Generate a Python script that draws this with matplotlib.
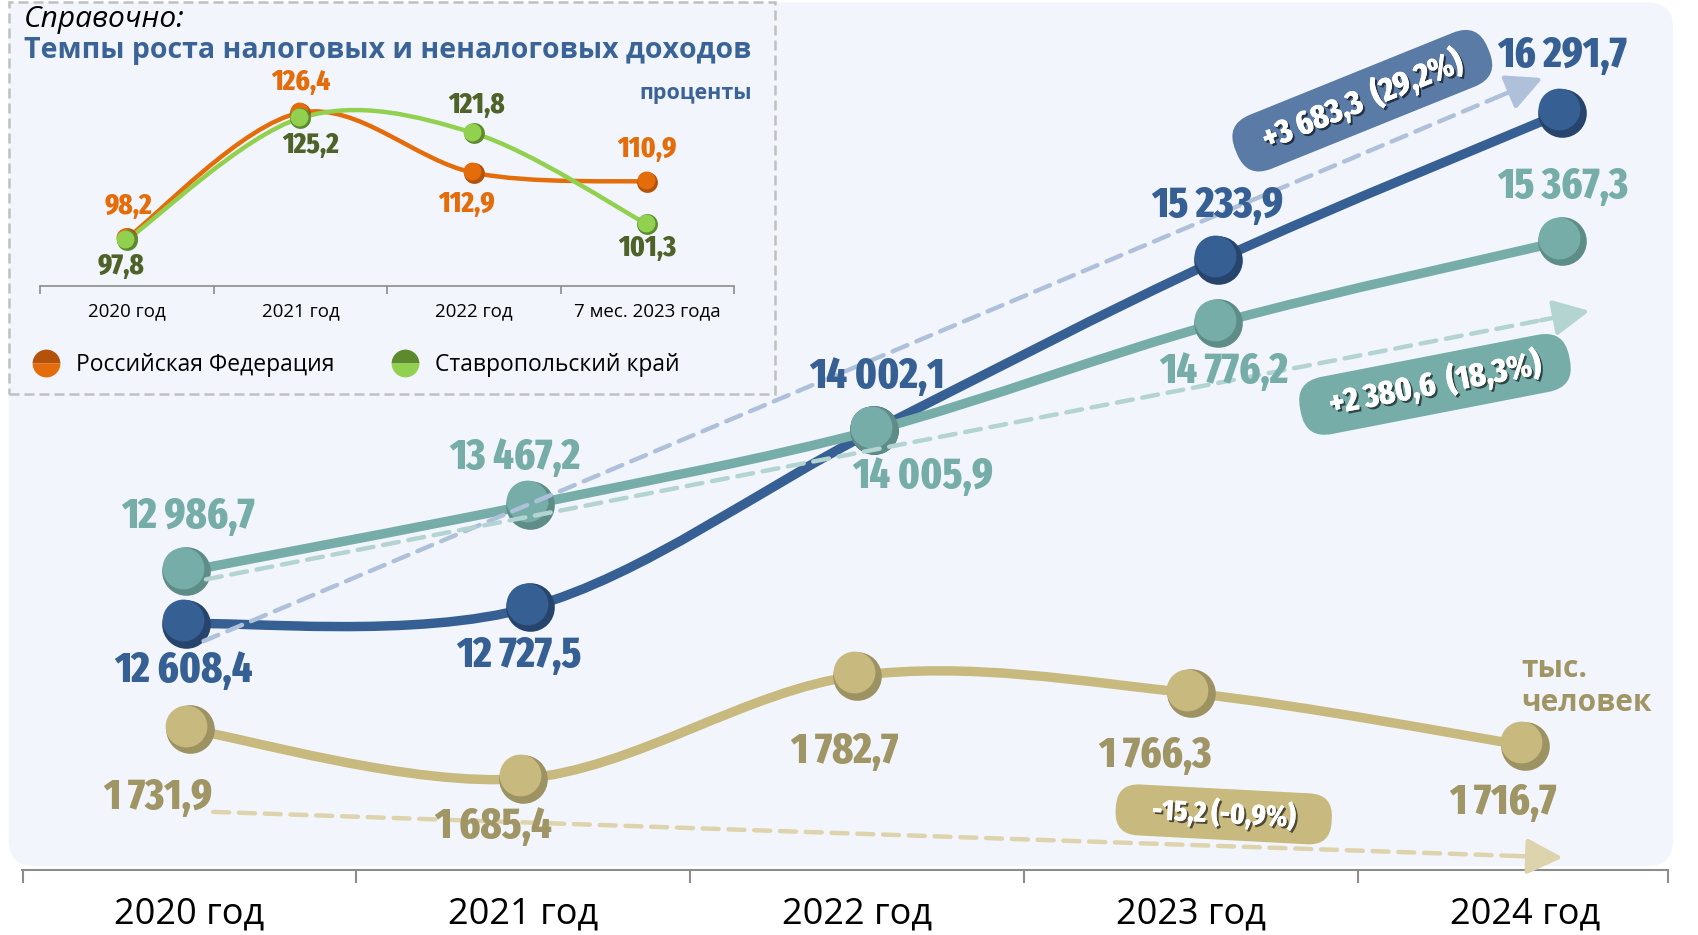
import matplotlib
matplotlib.use('Agg')
import matplotlib.pyplot as plt
import matplotlib.patheffects as pe
from matplotlib import transforms
from matplotlib.path import Path
from matplotlib.patches import PathPatch, FancyBboxPatch
from matplotlib.lines import Line2D
import numpy as np

# main chart data
years = ['2020 год', '2021 год', '2022 год', '2023 год', '2024 год']
series_blue = [12608.4, 12727.5, 14002.1, 15233.9, 16291.7]
series_teal = [12986.7, 13467.2, 14005.9, 14776.2, 15367.3]
population = [1731.9, 1685.4, 1782.7, 1766.3, 1716.7]

blue_change = '+3 683,3  (29,2%)'
teal_change = '+2 380,6  (18,3%)'
pop_change = '-15,2 (-0,9%)'

# inset data
inset_cats = ['2020 год', '2021 год', '2022 год', '7 мес. 2023 года']
rf_growth = [98.2, 126.4, 112.9, 110.9]
sk_growth = [97.8, 125.2, 121.8, 101.3]

BG = '#F2F6FC'
BLUE, BLUE_D, BLUE_T = '#365F93', '#27446C', '#AFC1DA'
TEAL, TEAL_D, TEAL_T = '#76ADA9', '#5E8D88', '#B3D4D1'
KHAKI, KHAKI_D, KHAKI_T, KHAKI_L = '#C8B97F', '#9D9262', '#DDD3AC', '#A09565'
ORANGE, ORANGE_D = '#E46C0A', '#B4520C'
GREEN, GREEN_D, GREEN_L = '#92D050', '#5E8A2E', '#4F6228'

NARROW = ['Fira Sans Extra Condensed', 'Roboto Condensed', 'DejaVu Sans']
plt.rcParams['font.family'] = ['Open Sans', 'DejaVu Sans']


def fmt(v):
    return f'{v:,.1f}'.replace(',', ' ').replace('.', ',')


def smooth_path(xs, ys):
    p = np.column_stack([xs, ys]).astype(float)
    n = len(p)
    verts, codes = [p[0]], [Path.MOVETO]
    for i in range(n - 1):
        p0, p1 = p[max(i - 1, 0)], p[i]
        p2, p3 = p[i + 1], p[min(i + 2, n - 1)]
        verts += [p1 + (p2 - p0) / 6, p2 - (p3 - p1) / 6, p2]
        codes += [Path.CURVE4] * 3
    return Path(verts, codes)


def smooth_line(ax, xs, ys, color, lw, z):
    ax.add_patch(PathPatch(smooth_path(xs, ys), fc='none', ec=color, lw=lw,
                           capstyle='round', zorder=z))


def balls(ax, xs, ys, face, shade, ms, z):
    ax.plot(xs, ys, 'o', ms=ms, color=shade, mec='none', zorder=z)
    tr = transforms.offset_copy(ax.transData, fig=ax.figure,
                                x=-ms * 0.07, y=ms * 0.07, units='points')
    ax.plot(xs, ys, 'o', ms=ms * 0.86, color=face, mec='none', zorder=z + 0.1,
            transform=tr)


def labels(ax, xs, ys, offsets, color, size):
    for x, y, (dx, dy) in zip(xs, ys, offsets):
        ax.annotate(fmt(y), (x, y), xytext=(dx, dy), textcoords='offset points',
                    ha='center', va='center', color=color, fontsize=size,
                    family=NARROW, weight='heavy', zorder=20)


def trend(ax, start, end, color, z):
    # dashed body plus a short solid piece that carries the head
    sx, sy = start
    ex, ey = end
    mx, my = ex - (ex - sx) * 0.035, ey - (ey - sy) * 0.035
    ax.annotate('', xy=(mx, my), xytext=start,
                arrowprops=dict(arrowstyle='-', color=color, lw=3.2,
                                ls=(0, (3.6, 2.2)), shrinkA=0, shrinkB=0), zorder=z)
    ax.annotate('', xy=end, xytext=(mx, my),
                arrowprops=dict(arrowstyle='-|>,head_length=2.2,head_width=1.1',
                                color=color, lw=3.2, shrinkA=0, shrinkB=0), zorder=z)


fig = plt.figure(figsize=(16.98, 9.35), dpi=100)
fig.patch.set_facecolor('white')

# light panel behind the main chart
fig.patches.append(FancyBboxPatch((0.0051, 0.0738), 0.9802, 0.9238,
                                  boxstyle='round,pad=0,rounding_size=0.015',
                                  mutation_aspect=1698 / 935, fc=BG, ec='none',
                                  transform=fig.transFigure, zorder=-2))
# dashed frame of the inset
fig.patches.append(FancyBboxPatch((0.0051, 0.5785), 0.4516, 0.4191,
                                  boxstyle='square,pad=0', fc=BG, ec='#C0C0C0',
                                  lw=1.8, ls=(0, (4, 2)),
                                  transform=fig.transFigure, zorder=-1))

rect = [0.01278, 0.06995, 0.96943, 0.93005]
x = np.arange(len(years))

# population axes (also carries the category axis)
ax_pop = fig.add_axes(rect)
ax_pop.set_facecolor('none')
ax_pop.set_xlim(-0.5027, 4.4287)
ax_pop.set_ylim(1599.3, 2422.1)
for s in ['top', 'left', 'right']:
    ax_pop.spines[s].set_visible(False)
ax_pop.spines['bottom'].set_color('#8C8C8C')
ax_pop.spines['bottom'].set_linewidth(1.5)
ax_pop.set_yticks([])
ax_pop.set_xticks([-0.5, 0.5, 1.5, 2.5, 3.5, 4.4287])
ax_pop.set_xticklabels([])
ax_pop.tick_params(axis='x', which='major', length=9, width=1.5, color='#8C8C8C')
ax_pop.set_xticks(x, minor=True)
ax_pop.set_xticklabels(years, minor=True, fontsize=26)
ax_pop.tick_params(axis='x', which='minor', length=0, pad=19)

smooth_line(ax_pop, x, population, KHAKI, 6.8, 3)
balls(ax_pop, x, population, KHAKI, KHAKI_D, 35, 5)
labels(ax_pop, x, population,
       [(-23, -49), (-22, -35), (-9, -55), (-26, -45), (-16, -41)], KHAKI_L, 31)
trend(ax_pop, (0.071, population[0] - 78), (4.114, population[-1] - 106), KHAKI_T, 4)
ax_pop.text(3.99, 1773, 'тыс.\nчеловек', color=KHAKI_L, fontsize=21.5,
            weight='bold', ha='left', va='center', linespacing=1.2)

# money axes
ax_m = fig.add_axes(rect)
ax_m.set_facecolor('none')
ax_m.axis('off')
ax_m.set_xlim(-0.4785, 4.3067)
ax_m.set_ylim(10836.5, 17105.2)

smooth_line(ax_m, x, series_blue, BLUE, 6.8, 3)
balls(ax_m, x, series_blue, BLUE, BLUE_D, 35, 5)
smooth_line(ax_m, x, series_teal, TEAL, 6.8, 6)
balls(ax_m, x, series_teal, TEAL, TEAL_D, 35, 7)
labels(ax_m, x, series_blue,
       [(-2, -34), (-8, -35), (2, 39), (-1, 39), (0, 41)], BLUE, 31)
labels(ax_m, x, series_teal,
       [(1, 39), (-11, 34), (35, -34), (4, -35), (0, 39)], TEAL, 31)

trend(ax_m, (0.05, series_blue[0] - 125), (3.943, series_blue[-1] + 251), BLUE_T, 8)
trend(ax_m, (0.057, series_teal[0] - 58), (4.079, series_teal[-1] - 503), TEAL_T, 8)


def pill(xf, yf, s, angle, color, size, side):
    pad = ' ' * side
    fig.text(xf, yf, pad + s + pad, rotation=angle, rotation_mode='anchor',
             ha='center', va='center', color='white', fontsize=size, family=NARROW,
             weight='heavy', zorder=30,
             bbox=dict(boxstyle='round,pad=0.36,rounding_size=0.8', fc=color, ec='none'),
             path_effects=[pe.withSimplePatchShadow(offset=(1.5, -1.5),
                                                    shadow_rgbFace='black', alpha=0.6),
                           pe.Normal()])


pill(0.8023, 0.8923, blue_change, 22, '#5A7BA6', 24, 3)
pill(0.8451, 0.5889, teal_change, 11, TEAL, 24, 3)
pill(0.7207, 0.1290, pop_change, -3, KHAKI, 21, 5)

# inset
fig.text(0.0141, 0.9790, 'Справочно:', fontsize=21.5, style='italic', va='center')
fig.text(0.0141, 0.9460, 'Темпы роста налоговых и неналоговых доходов',
         fontsize=20.5, weight='bold', color='#3A6397', va='center')
fig.text(0.4431, 0.9000, 'проценты', fontsize=15.5, weight='bold', color='#3A6397',
         ha='right', va='center')

ax_in = fig.add_axes([0.02362, 0.69422, 0.40877, 0.23626])
ax_in.set_facecolor('none')
ax_in.set_xlim(-0.5, 3.5)
ax_in.set_ylim(87.5, 137.1)
for s in ['top', 'left', 'right']:
    ax_in.spines[s].set_visible(False)
ax_in.spines['bottom'].set_color('#8C8C8C')
ax_in.spines['bottom'].set_linewidth(1.2)
ax_in.set_yticks([])
xi = np.arange(len(inset_cats))
ax_in.set_xticks(np.arange(-0.5, 4, 1))
ax_in.set_xticklabels([])
ax_in.tick_params(axis='x', which='major', length=6, width=1.2, color='#8C8C8C')
ax_in.set_xticks(xi, minor=True)
ax_in.set_xticklabels(inset_cats, minor=True, fontsize=13.5)
ax_in.tick_params(axis='x', which='minor', length=0, pad=12)

smooth_line(ax_in, xi, rf_growth, ORANGE, 3.2, 3)
smooth_line(ax_in, xi, sk_growth, GREEN, 3.2, 4)
balls(ax_in, xi, rf_growth, ORANGE, ORANGE_D, 15, 5)
balls(ax_in, xi, sk_growth, GREEN, GREEN_D, 15, 6)


def inset_labels(vals, offsets, color):
    for xx, v, (dx, dy) in zip(xi, vals, offsets):
        ax_in.annotate(f'{v:.1f}'.replace('.', ','), (xx, v), xytext=(dx, dy),
                       textcoords='offset points', ha='center', va='center',
                       color=color, fontsize=21, family=NARROW, weight='heavy',
                       zorder=20)


inset_labels(rf_growth, [(1, 23), (0, 22), (-5, -23), (0, 23)], ORANGE)
inset_labels(sk_growth, [(-4, -19), (7, -20), (2, 20), (0, -17)], GREEN_L)

handles = [Line2D([], [], ls='none', marker='o', ms=20, mec='none', fillstyle='top',
                  mfc=ORANGE_D, mfcalt=ORANGE),
           Line2D([], [], ls='none', marker='o', ms=20, mec='none', fillstyle='top',
                  mfc=GREEN_D, mfcalt=GREEN)]
fig.legend(handles, ['Российская Федерация', 'Ставропольский край'], ncol=2,
           loc='center left', bbox_to_anchor=(0.0189, 0.6097), frameon=False,
           fontsize=16.5, handlelength=1.2, handletextpad=0.7, columnspacing=2.5,
           borderpad=0, borderaxespad=0)

fig.savefig('out.png', dpi=100, facecolor='white')
